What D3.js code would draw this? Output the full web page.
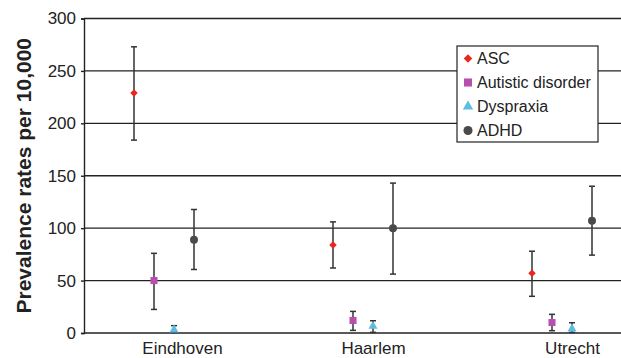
<!DOCTYPE html>
<html>
<head>
<meta charset="utf-8">
<script src="https://cdn.jsdelivr.net/npm/d3@7"></script>
<style>
  body { margin: 0; background: #fff; }
  svg { font-family: "Liberation Sans", Arial, Helvetica, sans-serif; }
</style>
</head>
<body>
<svg id="chart" width="621" height="358"></svg>
<script>
// chart data
var cities = ["Eindhoven", "Haarlem", "Utrecht"];
var series = ["ASC", "Autistic disorder", "Dyspraxia", "ADHD"];
var yTicks = [0, 50, 100, 150, 200, 250, 300];

// point estimates per series, in city order
var ascValues = [229, 84, 57];
var autisticValues = [50, 12, 10];
var dyspraxiaValues = [3, 6.5, 4];
var adhdValues = [89, 100, 107];

// confidence limits
var ascLow = [184, 62, 35];
var ascHigh = [273, 106, 78];
var autisticLow = [22.5, 2.5, 2.2];
var autisticHigh = [76, 20.6, 17.8];
var dyspraxiaLow = [0.5, 0.6, 0.5];
var dyspraxiaHigh = [7, 11.7, 9.8];
var adhdLow = [60.6, 56.2, 74.3];
var adhdHigh = [117.8, 143, 140];

var svg = d3.select('#chart');
var plotLeft = 84, plotRight = 621, plotTop = 18.5, plotBottom = 333;

var y = d3.scaleLinear().domain([0, 300]).range([plotBottom, plotTop]);
var x = d3.scalePoint().domain(cities).range([174, 572]);
var off = d3.scalePoint().domain(series).range([-40, 20]);

var colors = d3.scaleOrdinal().domain(series)
  .range(["#e8281e", "#b84fae", "#5cbde0", "#4a4a4a"]);
var shapes = d3.scaleOrdinal().domain(series)
  .range([d3.symbolDiamond2, d3.symbolSquare, d3.symbolTriangle, d3.symbolCircle]);
var sizes = d3.scaleOrdinal().domain(series).range([36, 50, 36, 50]);

var values = [ascValues, autisticValues, dyspraxiaValues, adhdValues];
var lows = [ascLow, autisticLow, dyspraxiaLow, adhdLow];
var highs = [ascHigh, autisticHigh, dyspraxiaHigh, adhdHigh];

var points = [];
series.forEach(function (s, si) {
  cities.forEach(function (c, ci) {
    points.push({ s: s, c: c, v: values[si][ci], lo: lows[si][ci], hi: highs[si][ci] });
  });
});

// grid lines
svg.append('g').selectAll('line')
  .data(yTicks.filter(function (d) { return d > 0; }))
  .enter().append('line')
  .attr('x1', plotLeft).attr('x2', plotRight)
  .attr('y1', function (d) { return y(d); })
  .attr('y2', function (d) { return y(d); })
  .attr('stroke', '#222').attr('stroke-width', 1.4);

// y axis
var yAxis = svg.append('g')
  .attr('transform', 'translate(' + plotLeft + ',0)')
  .call(d3.axisLeft(y).tickValues(yTicks).tickSize(3).tickPadding(5));
yAxis.select('.domain').attr('stroke', '#222').attr('stroke-width', 1.4);
yAxis.selectAll('.tick line').attr('stroke', '#222').attr('stroke-width', 1.4);
yAxis.selectAll('text')
  .attr('font-size', 17).attr('fill', '#222')
  .attr('font-family', '"Liberation Sans", Arial, sans-serif');

// x axis
var xAxis = svg.append('g')
  .attr('transform', 'translate(0,' + plotBottom + ')')
  .call(d3.axisBottom(x).tickSize(0).tickPadding(9));
xAxis.select('.domain').attr('d', 'M' + plotLeft + ',0H' + plotRight)
  .attr('stroke', '#222').attr('stroke-width', 1.4);
xAxis.selectAll('text')
  .attr('font-size', 17).attr('fill', '#222')
  .attr('font-family', '"Liberation Sans", Arial, sans-serif')
  .attr('dx', function (d, i) { return i === 0 ? 8 : 0; });

// error bars
var bars = svg.append('g').selectAll('g.err')
  .data(points).enter().append('g').attr('class', 'err')
  .attr('transform', function (d) { return 'translate(' + (x(d.c) + off(d.s)) + ',0)'; })
  .attr('stroke', '#333').attr('stroke-width', 1.5);
bars.append('line')
  .attr('y1', function (d) { return y(d.lo); })
  .attr('y2', function (d) { return y(d.hi); });
bars.append('line').attr('x1', -3).attr('x2', 3)
  .attr('y1', function (d) { return y(d.lo); })
  .attr('y2', function (d) { return y(d.lo); });
bars.append('line').attr('x1', -3).attr('x2', 3)
  .attr('y1', function (d) { return y(d.hi); })
  .attr('y2', function (d) { return y(d.hi); });

// markers
svg.append('g').selectAll('path')
  .data(points).enter().append('path')
  .attr('transform', function (d) {
    return 'translate(' + (x(d.c) + off(d.s)) + ',' + y(d.v) + ')';
  })
  .attr('d', function (d) { return d3.symbol().type(shapes(d.s)).size(sizes(d.s))(); })
  .attr('fill', function (d) { return colors(d.s); });

// y axis title
svg.append('text')
  .attr('transform', 'translate(31,' + ((plotTop + plotBottom) / 2) + ') rotate(-90)')
  .attr('text-anchor', 'middle')
  .attr('font-size', 21).attr('font-weight', 'bold').attr('fill', '#222')
  .text('Prevalence rates per 10,000');

// legend
var legend = svg.append('g').attr('transform', 'translate(457,46)');
legend.append('rect')
  .attr('width', 141).attr('height', 96)
  .attr('fill', '#fff').attr('stroke', '#222').attr('stroke-width', 1.2);
var items = legend.selectAll('g.item').data(series).enter().append('g')
  .attr('class', 'item')
  .attr('transform', function (d, i) { return 'translate(0,' + (12.5 + i * 24) + ')'; });
items.append('path')
  .attr('transform', 'translate(11,0)')
  .attr('d', function (d) { return d3.symbol().type(shapes(d)).size(sizes(d) * 1.3)(); })
  .attr('fill', function (d) { return colors(d); });
items.append('text')
  .attr('x', 20).attr('dy', '0.35em')
  .attr('font-size', 16).attr('fill', '#222')
  .text(function (d) { return d; });
</script>
</body>
</html>
